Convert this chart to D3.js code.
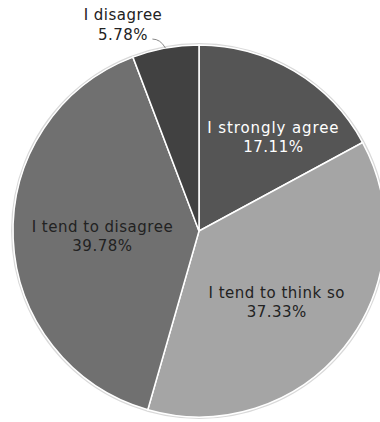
<!DOCTYPE html>
<html>
<head>
<meta charset="utf-8">
<script src="https://cdn.jsdelivr.net/npm/d3@7/dist/d3.min.js"></script>
<style>
  body { margin: 0; background: #fff; }
  text { font-family: Verdana, "DejaVu Sans", sans-serif; letter-spacing: 0.5px; }
</style>
</head>
<body>
<div id="chart-area"></div>
<script>
var categories = ["I strongly agree", "I tend to think so", "I tend to disagree", "I disagree"];
var values = [17.11, 37.33, 39.78, 5.78];
var labels = ["17.11%", "37.33%", "39.78%", "5.78%"];
var colors = ["#555555", "#a5a5a5", "#707070", "#414141"];
var textColors = ["#fff", "#222", "#222", "#222"];

var width = 380, height = 422;
var cx = 199, cy = 231, radius = 186;

var svg = d3.select("#chart-area")
            .append("svg")
                .attr("width", width)
                .attr("height", height);

var g = svg.append("g")
           .attr("transform", "translate(" + cx + ", " + cy + ")");

var data = categories.map(function(c, i) {
  return { name: c, value: values[i], label: labels[i], color: colors[i], text: textColors[i] };
});

var pie = d3.pie()
            .sort(null)
            .value(function(d) { return d.value; });

var arc = d3.arc().innerRadius(0).outerRadius(radius);

var arcs = pie(data);

// outer rim
g.append("circle")
  .attr("r", radius + 1)
  .attr("fill", "none")
  .attr("stroke", "#d9d9d9")
  .attr("stroke-width", 2);

g.selectAll("path.slice")
  .data(arcs)
  .enter()
  .append("path")
    .attr("class", "slice")
    .attr("d", arc)
    .attr("fill", function(d) { return d.data.color; })
    .attr("stroke", "#fff")
    .attr("stroke-width", 1.5);

// Labels inside the big slices (radius factor, angle nudge in degrees)
var inside = arcs.filter(function(d) { return d.data.value > 10; });
var labelR = [0.645, 0.565, 0.52];
var labelNudge = [7.5, 3.5, -0.3];
var labelSpacing = [0.9, 0.5, 0.5];

var lab = g.selectAll("g.lab")
  .data(inside)
  .enter()
  .append("g")
    .attr("class", "lab")
    .attr("transform", function(d, i) {
      var a = (d.startAngle + d.endAngle) / 2 + labelNudge[i] * Math.PI / 180;
      var r = radius * labelR[i];
      return "translate(" + (Math.sin(a) * r) + "," + (-Math.cos(a) * r) + ")";
    });

lab.append("text")
  .attr("text-anchor", "middle")
  .attr("y", -4)
  .attr("font-size", "15px")
  .style("letter-spacing", function(d, i) { return labelSpacing[i] + "px"; })
  .attr("fill", function(d) { return d.data.text; })
  .text(function(d) { return d.data.name; });

lab.append("text")
  .attr("text-anchor", "middle")
  .attr("y", 15)
  .attr("font-size", "15px")
  .attr("fill", function(d) { return d.data.text; })
  .text(function(d) { return d.data.label; });

// Outside label for the small slice
var small = arcs[3];
var midA = (small.startAngle + small.endAngle) / 2;
var edge = [Math.sin(midA) * radius, -Math.cos(midA) * radius];

g.append("path")
  .attr("d", "M" + edge[0] + "," + edge[1] +
             " Q" + (edge[0] - 5) + "," + (edge[1] - 9) + " " + (edge[0] - 13) + "," + (edge[1] - 9))
  .attr("fill", "none")
  .attr("stroke", "#888")
  .attr("stroke-width", 1);

g.append("text")
  .attr("x", -76)
  .attr("y", -211)
  .attr("text-anchor", "middle")
  .attr("font-size", "15px")
  .attr("fill", "#222")
  .text(small.data.name);

g.append("text")
  .attr("x", -76)
  .attr("y", -191)
  .attr("text-anchor", "middle")
  .attr("font-size", "15px")
  .attr("fill", "#222")
  .text(small.data.label);
</script>
</body>
</html>
